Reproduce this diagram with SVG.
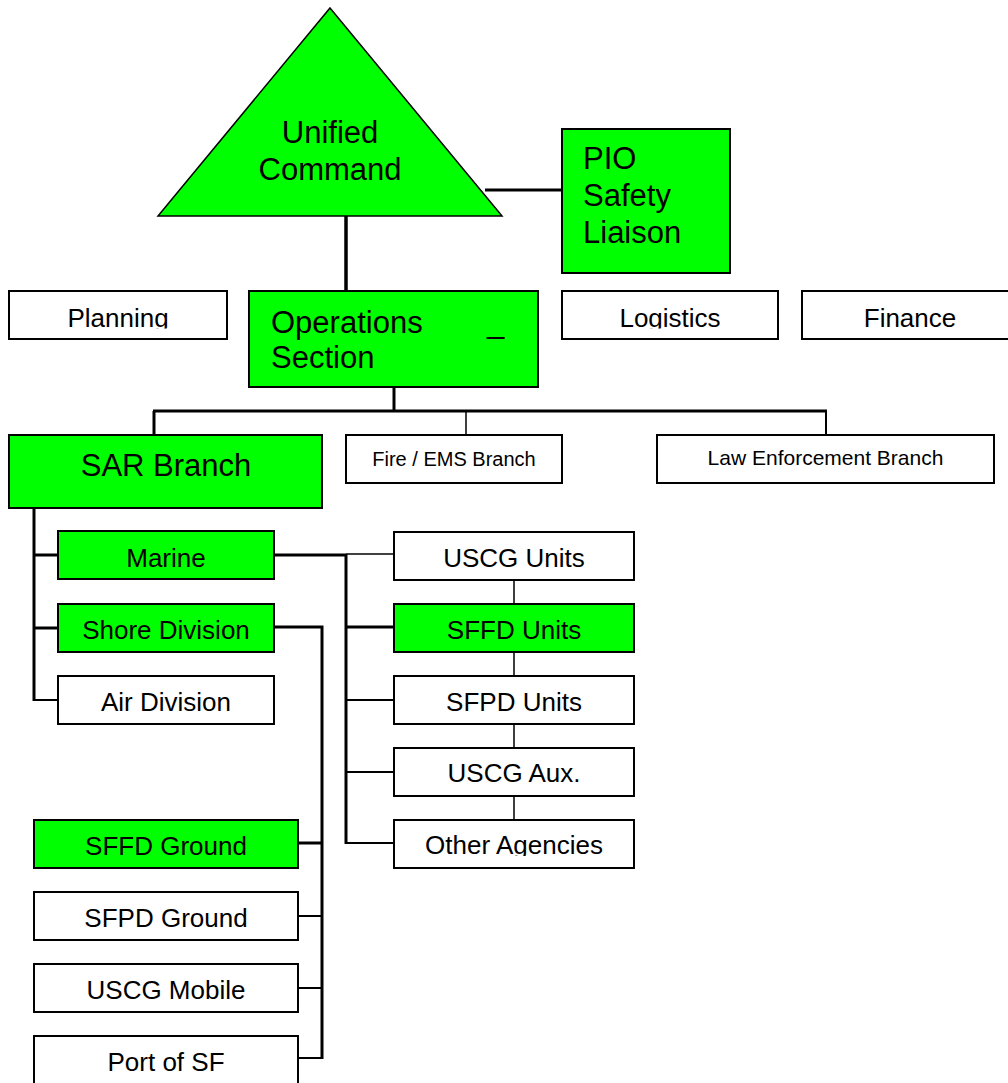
<svg xmlns="http://www.w3.org/2000/svg" width="1008" height="1083" viewBox="0 0 1008 1083">
<style>
  .g { fill: #00FF00; stroke: #000; stroke-width: 2; }
  .w { fill: #FFFFFF; stroke: #000; stroke-width: 2; }
  text { font-family: "Liberation Sans", Arial, sans-serif; fill: #000; }
  .big { font-size: 31px; }
  .mid { font-size: 26px; text-anchor: middle; }
  .sm { font-size: 20px; text-anchor: middle; }
  .c path { fill: none; stroke: #000; stroke-linecap: butt; stroke-linejoin: miter; }
  .t3 { stroke-width: 3; }
  .t2 { stroke-width: 2; }
  .t1 { stroke-width: 1.5; }
</style>
<defs>
  <clipPath id="clipTop"><rect x="0" y="280" width="1008" height="48.5"/></clipPath>
  <clipPath id="clipOther"><rect x="390" y="815" width="250" height="41"/></clipPath>
</defs>
<rect x="0" y="0" width="1008" height="1083" fill="#FFFFFF"/>

<g class="c" id="connectors">
  <path class="t3" d="M346,216 V291" style="stroke-width:3.5"/>
  <path class="t3" d="M485,190 H562"/>
  <path class="t3" d="M394,387 V411"/>
  <path class="t3" d="M153,411 H827"/>
  <path class="t3" d="M154,411 V435"/>
  <path class="t1" d="M466,411 V435"/>
  <path class="t2" d="M826,411 V434"/>
  <path class="t3" d="M34,508 V701"/>
  <path class="t3" d="M34,555 H58"/>
  <path class="t3" d="M34,628 H58"/>
  <path class="t2" d="M33,700 H58"/>
  <path class="t3" d="M274,555 H346"/>
  <path class="t1" d="M346,554 H393"/>
  <path class="t3" d="M346,554 V844"/>
  <path class="t3" d="M346,627 H393"/>
  <path class="t2" d="M346,700 H393"/>
  <path class="t2" d="M346,772 H393"/>
  <path class="t2" d="M346,843 H393"/>
  <path class="t1" d="M514,580 V604 M514,652 V676 M514,724 V748 M514,796 V819"/>
  <path class="t3" d="M274,627 H322 V1059"/>
  <path class="t3" d="M298,843 H322"/>
  <path class="t2" d="M298,916 H322"/>
  <path class="t2" d="M298,988 H322"/>
  <path class="t2" d="M298,1058 H322"/>
</g>

<g id="unified-command">
  <polygon points="330,8 502,216 158,216" fill="#00FF00" stroke="#000" stroke-width="1.5"/>
  <text class="big" x="330" y="143" text-anchor="middle">Unified</text>
  <text class="big" x="330" y="180" text-anchor="middle">Command</text>
</g>

<g id="pio">
  <rect class="g" x="562" y="129" width="168" height="144"/>
  <text class="big" x="583" y="169">PIO</text>
  <text class="big" x="583" y="206">Safety</text>
  <text class="big" x="583" y="243">Liaison</text>
</g>

<g id="planning">
  <rect class="w" x="9" y="291" width="218" height="48"/>
  <text class="mid" x="118" y="327" clip-path="url(#clipTop)">Planning</text>
</g>

<g id="operations">
  <rect class="g" x="249" y="291" width="289" height="96"/>
  <text class="big" x="271" y="333">Operations</text>
  <text class="big" x="487" y="333">_</text>
  <text class="big" x="271" y="368">Section</text>
</g>

<g id="logistics">
  <rect class="w" x="562" y="291" width="216" height="48"/>
  <text class="mid" x="670" y="327" clip-path="url(#clipTop)">Logistics</text>
</g>

<g id="finance">
  <rect class="w" x="802" y="291" width="216" height="48"/>
  <text class="mid" x="910" y="327">Finance</text>
</g>

<g id="sar-branch">
  <rect class="g" x="9" y="435" width="313" height="73"/>
  <text class="big" x="166" y="476" text-anchor="middle">SAR Branch</text>
</g>

<g id="fire-ems">
  <rect class="w" x="346" y="435" width="216" height="48"/>
  <text class="sm" x="454" y="466">Fire / EMS Branch</text>
</g>

<g id="law-enforcement">
  <rect class="w" x="657" y="435" width="337" height="48"/>
  <text class="sm" x="825.5" y="465" style="font-size:21px">Law Enforcement Branch</text>
</g>

<g id="marine">
  <rect class="g" x="58" y="531" width="216" height="48"/>
  <text class="mid" x="166" y="567">Marine</text>
</g>
<g id="shore-division">
  <rect class="g" x="58" y="604" width="216" height="48"/>
  <text class="mid" x="166" y="639">Shore Division</text>
</g>
<g id="air-division">
  <rect class="w" x="58" y="676" width="216" height="48"/>
  <text class="mid" x="166" y="711">Air Division</text>
</g>

<g id="uscg-units">
  <rect class="w" x="394" y="532" width="240" height="48"/>
  <text class="mid" x="514" y="567">USCG Units</text>
</g>
<g id="sffd-units">
  <rect class="g" x="394" y="604" width="240" height="48"/>
  <text class="mid" x="514" y="639">SFFD Units</text>
</g>
<g id="sfpd-units">
  <rect class="w" x="394" y="676" width="240" height="48"/>
  <text class="mid" x="514" y="711">SFPD Units</text>
</g>
<g id="uscg-aux">
  <rect class="w" x="394" y="748" width="240" height="48"/>
  <text class="mid" x="514" y="782">USCG Aux.</text>
</g>
<g id="other-agencies">
  <rect class="w" x="394" y="820" width="240" height="48"/>
  <text class="mid" x="514" y="854" clip-path="url(#clipOther)">Other Agencies</text>
</g>

<g id="sffd-ground">
  <rect class="g" x="34" y="820" width="264" height="48"/>
  <text class="mid" x="166" y="855">SFFD Ground</text>
</g>
<g id="sfpd-ground">
  <rect class="w" x="34" y="892" width="264" height="48"/>
  <text class="mid" x="166" y="927">SFPD Ground</text>
</g>
<g id="uscg-mobile">
  <rect class="w" x="34" y="964" width="264" height="48"/>
  <text class="mid" x="166" y="999">USCG Mobile</text>
</g>
<g id="port-of-sf">
  <rect class="w" x="34" y="1036" width="264" height="48"/>
  <text class="mid" x="166" y="1071">Port of SF</text>
</g>
</svg>
